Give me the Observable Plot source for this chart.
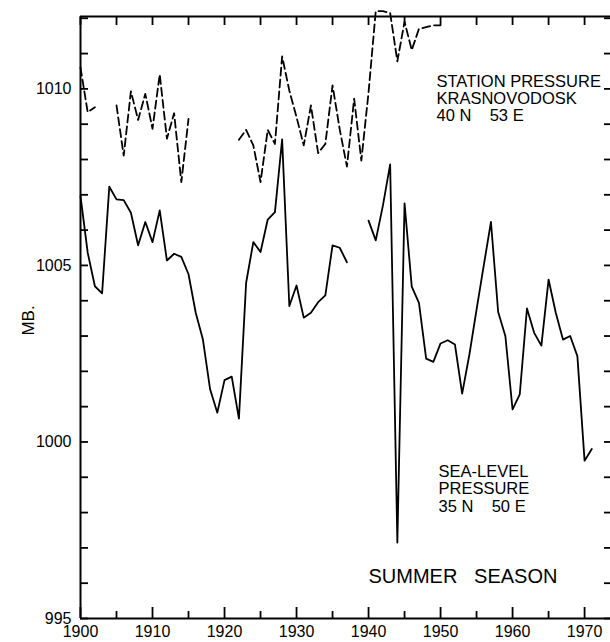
<!DOCTYPE html>
<html><head><meta charset="utf-8">
<script src="https://cdn.jsdelivr.net/npm/d3@7"></script>
<script src="https://cdn.jsdelivr.net/npm/@observablehq/plot@0.6"></script>
<style>
body{margin:0;background:#fff}
svg{font-family:"Liberation Sans",Arial,sans-serif;background:#fff}
</style>
</head><body><div id="chart"></div>
<script>
// Years 1900..1971
const years = d3.range(1900, 1972);
// Sea-level pressure, 35 N 50 E (solid line)
const seaLevel = [
  1006.96,1005.36,1004.41,1004.21,1007.23,1006.87,1006.85,1006.49,1005.57,1006.23,
  1005.66,1006.56,1005.14,1005.33,1005.24,1004.75,1003.66,1002.90,1001.49,1000.83,
  1001.75,1001.85,1000.66,1004.51,1005.66,1005.38,1006.30,1006.51,1008.57,1003.85,
  1004.43,1003.52,1003.66,1003.96,1004.15,1005.57,1005.50,1005.09,null,null,
  1006.27,1005.71,1006.70,1007.86,997.15,1006.76,1004.40,1003.94,1002.36,1002.27,
  1002.79,1002.88,1002.76,1001.37,1002.47,1003.75,1005.00,1006.23,1003.68,1003.00,
  1000.92,1001.35,1003.78,1003.09,1002.73,1004.60,1003.66,1002.90,1003.00,1002.43,
  999.47,999.80
];
// Station pressure, Krasnovodsk 40 N 53 E (dashed line)
const station = [
  1010.60,1009.34,1009.48,null,null,1009.53,1008.11,1009.93,1009.12,1009.86,
  1008.87,1010.41,1008.59,1009.31,1007.36,1009.15,null,null,null,null,
  null,null,1008.56,1008.84,1008.40,1007.36,1008.84,1008.44,1010.92,1009.95,
  1009.20,1008.40,1009.53,1008.18,1008.44,1010.10,1008.85,1007.80,1009.72,1007.97,
  1009.90,1012.20,1012.20,1012.15,1010.78,1011.90,1011.10,1011.70,1011.75,1011.80,
  1011.80,null,null,null,null,null,null,null,null,null,
  null,null,null,null,null,null,null,null,null,null,
  null,null
];
const xTickLabels = [1900,1910,1920,1930,1940,1950,1960,1970];
const xMinorTicks = [1905,1915,1925,1935,1945,1955,1965];
const xTopTicks = d3.range(1900, 1975, 5);
const yTickLabels = [995,1000,1005,1010];
const yMinorTicks = d3.range(995, 1013);
const xDomain = [1900, 1973.6];
const yDomain = [995, 1012.05];

const table = years.map((year, i) => ({year, slp: seaLevel[i], stn: station[i]}));

const sw = 1.8;
const chart = Plot.plot({
  width: 610,
  height: 642,
  marginLeft: 80,
  marginRight: 0,
  marginTop: 16,
  marginBottom: 24,
  style: {background: "#fff", color: "#000", fontFamily: '"Liberation Sans", Arial, sans-serif'},
  x: {domain: xDomain},
  y: {domain: yDomain},
  marks: [
    // frame
    Plot.ruleX([xDomain[0]], {stroke: "#000", strokeWidth: 2}),
    Plot.ruleY([yDomain[0], yDomain[1]], {stroke: "#000", strokeWidth: 2}),
    // inward ticks
    Plot.axisY(yMinorTicks, {anchor: "left", tickSize: 8, dx: 8, tickFormat: () => "", label: null, strokeWidth: sw}),
    Plot.axisY(yMinorTicks, {anchor: "right", tickSize: 7, dx: -7, tickFormat: () => "", label: null, strokeWidth: sw}),
    Plot.axisX(xTickLabels, {anchor: "bottom", tickSize: 11, dy: -11, tickFormat: () => "", label: null, strokeWidth: sw}),
    Plot.axisX(xMinorTicks, {anchor: "bottom", tickSize: 7, dy: -7, tickFormat: () => "", label: null, strokeWidth: sw}),
    Plot.axisX(xTopTicks, {anchor: "top", tickSize: 8, dy: 8, tickFormat: () => "", label: null, strokeWidth: sw}),
    // tick labels
    Plot.axisX(xTickLabels, {anchor: "bottom", tickSize: 0, tickPadding: 7, fontSize: 16, tickFormat: d => String(d), label: null}),
    Plot.axisY(yTickLabels, {anchor: "left", tickSize: 0, tickPadding: 9, fontSize: 16, tickFormat: d => String(d), label: null}),
    // series
    Plot.line(table, {x: "year", y: "stn", stroke: "#000", strokeWidth: sw, strokeDasharray: "8,4"}),
    Plot.line(table, {x: "year", y: "slp", stroke: "#000", strokeWidth: sw}),
    // labels
    Plot.text(["MB."], {frameAnchor: "top-left", dx: -52, dy: 304, rotate: -90, fontSize: 17, textAnchor: "middle", lineAnchor: "middle", fill: "#000"}),
    Plot.text(["STATION PRESSURE\nKRASNOVODOSK\n40 N\u00a0\u00a0\u00a0 53 E"], {frameAnchor: "top-left", dx: 356, dy: 104, fontSize: 16.5, lineHeight: 1.03, textAnchor: "start", lineAnchor: "bottom", fill: "#000"}),
    Plot.text(["SEA-LEVEL\nPRESSURE\n35 N\u00a0\u00a0\u00a0 50 E"], {frameAnchor: "top-left", dx: 358, dy: 495, fontSize: 16.5, lineHeight: 1.06, textAnchor: "start", lineAnchor: "bottom", fill: "#000"}),
    Plot.text(["SUMMER\u00a0\u00a0 SEASON"], {frameAnchor: "top-left", dx: 288, dy: 566, fontSize: 20, textAnchor: "start", lineAnchor: "bottom", fill: "#000"})
  ]
});
document.getElementById("chart").appendChild(chart);
</script>
</body></html>
